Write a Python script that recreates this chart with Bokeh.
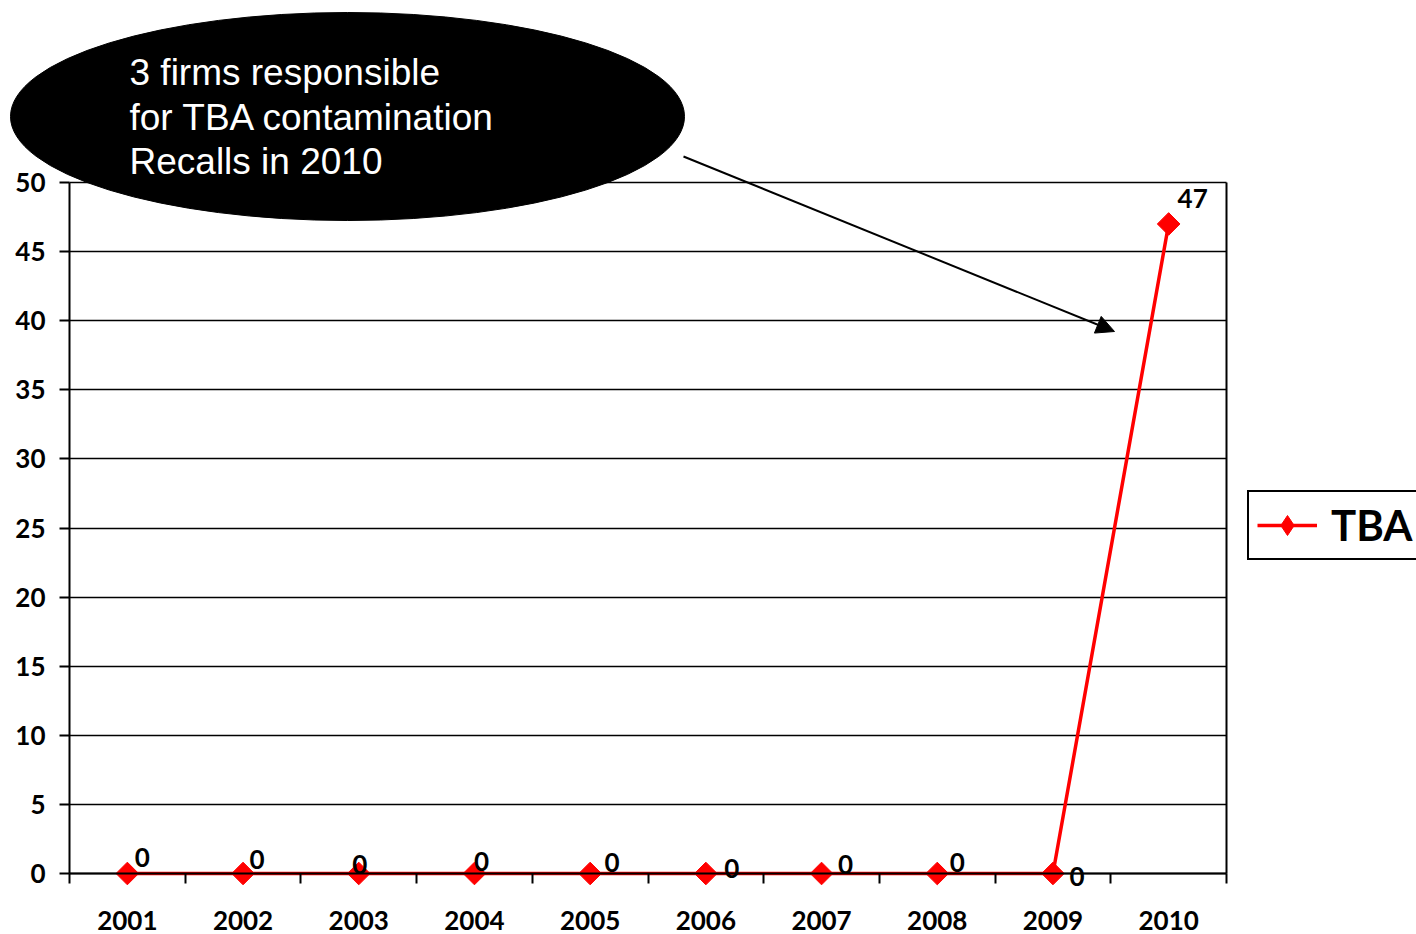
import math

from bokeh.core.properties import value
from bokeh.embed import file_html
from bokeh.models import (Arrow, ColumnDataSource, FixedTicker, Grid, Legend,
                          LegendItem, LinearAxis, NormalHead, Range1d)
from bokeh.plotting import figure
from bokeh.resources import INLINE

# ---- data -------------------------------------------------------------
years = [2001, 2002, 2003, 2004, 2005, 2006, 2007, 2008, 2009, 2010]
tba_recalls = [0, 0, 0, 0, 0, 0, 0, 0, 0, 47]
y_ticks = [0, 5, 10, 15, 20, 25, 30, 35, 40, 45, 50]
series_name = "TBA"
callout_lines = ["3 firms responsible", "for TBA contamination", "Recalls in 2010"]

# nudges for the value labels, in screen pixels (right, down)
label_dx = [15, 14, 1, 7, 22, 26, 24, 20, 24, 24]
label_dy = [-16, -14, -9, -12, -11, -5, -9, -11, 3, -25]

# ---- canvas / plot box geometry ----------------------------------------
W, H = 1416, 934
BOX_L, BOX_R, BOX_T, BOX_B = 69, 1226, 182, 873
x_lo, x_hi = years[0] - 0.5, years[-1] + 0.5
y_lo, y_hi = 0, 50
x_px = (BOX_R - BOX_L) / (x_hi - x_lo)   # pixels per year
y_px = (BOX_B - BOX_T) / (y_hi - y_lo)   # pixels per recall

x_range = Range1d(x_lo - BOX_L / x_px, x_hi + (W - BOX_R) / x_px)
y_range = Range1d(y_lo - (H - BOX_B) / y_px, y_hi + BOX_T / y_px)


def at(px, py):
    """Canvas pixel position -> data position (for the callout pieces)."""
    return x_range.start + px / x_px, y_range.end - py / y_px


FONT = "Lato"
RED = "#FF0000"

p = figure(width=W, height=H, x_range=x_range, y_range=y_range,
           output_backend="svg", toolbar_location=None, min_border=0,
           x_axis_type=None, y_axis_type=None, outline_line_color=None,
           background_fill_color="white", border_fill_color="white")

# ---- horizontal gridlines inside the plot box ---------------------------
p.add_layout(Grid(dimension=1, ticker=FixedTicker(ticks=y_ticks),
                  bounds=(y_lo, y_hi), cross_bounds=(x_lo, x_hi),
                  grid_line_color="black", grid_line_width=1.5))

# ---- axes ---------------------------------------------------------------
yaxis = LinearAxis(fixed_location=x_lo, bounds=(y_lo, y_hi),
                   ticker=FixedTicker(ticks=y_ticks),
                   axis_line_width=2, major_tick_line_width=2,
                   major_tick_out=10, major_tick_in=0,
                   minor_tick_out=0, minor_tick_in=0,
                   major_label_standoff=14,
                   major_label_text_font=FONT,
                   major_label_text_font_style="bold",
                   major_label_text_font_size="26px",
                   major_label_text_color="black")
p.add_layout(yaxis, "left")

xaxis = LinearAxis(fixed_location=y_lo, bounds=(x_lo, x_hi),
                   ticker=FixedTicker(ticks=years,
                                      minor_ticks=[y - 0.5 for y in years] + [x_hi]),
                   axis_line_width=2,
                   major_tick_out=0, major_tick_in=0,
                   minor_tick_out=10, minor_tick_in=0,
                   minor_tick_line_width=2, minor_tick_line_color="black",
                   major_label_standoff=27,
                   major_label_text_font=FONT,
                   major_label_text_font_style="bold",
                   major_label_text_font_size="26px",
                   major_label_text_color="black")
p.add_layout(xaxis, "below")

# right edge of the plot box
edge = LinearAxis(fixed_location=x_hi, bounds=(y_lo, y_hi),
                  ticker=FixedTicker(ticks=[]), axis_line_width=2,
                  major_tick_out=0, major_tick_in=0,
                  minor_tick_out=0, minor_tick_in=0)
p.add_layout(edge, "right")

# ---- series -------------------------------------------------------------
src = ColumnDataSource(dict(year=years, recalls=tba_recalls,
                            label=[str(v) for v in tba_recalls],
                            dx=label_dx, dy=label_dy))

line_r = p.line("year", "recalls", source=src, line_color=RED, line_width=3.5)
pts_r = p.scatter("year", "recalls", source=src, marker="square", size=16,
                  angle=math.pi / 4, fill_color=RED, line_color=RED)
p.text("year", "recalls", text="label", source=src,
       x_offset="dx", y_offset="dy",
       text_align="center", text_baseline="middle",
       text_font=value(FONT), text_font_style="bold",
       text_font_size="26px", text_color="black")

# diamond key for the legend (legend glyphs are drawn unrotated);
# its single NaN point draws nothing on the chart itself
legend_key = p.scatter(x=[float("nan")], y=[float("nan")], marker="diamond",
                       size=20, fill_color=RED, line_color=RED)

# ---- callout bubble with arrow -----------------------------------------
ex, ey = at(347, 116)
p.ellipse(x=[ex], y=[ey], width=674, height=208,
          width_units="screen", height_units="screen",
          fill_color="black", line_color="black", level="overlay")

tx, _ = at(129, 0)
p.text(x=[tx] * 3, y=[at(0, 72)[1], at(0, 117)[1], at(0, 161)[1]],
       text=callout_lines, text_color="white",
       text_font=value("Liberation Sans"), text_font_size="37px",
       text_align="left", text_baseline="alphabetic", level="overlay")

ax0, ay0 = at(683, 156)
ax1, ay1 = at(1114, 331)
p.add_layout(Arrow(x_start=ax0, y_start=ay0, x_end=ax1, y_end=ay1,
                   line_color="black", line_width=2,
                   end=NormalHead(size=18, fill_color="black",
                                  line_color="black", line_width=1)))

# ---- legend -------------------------------------------------------------
legend = Legend(items=[LegendItem(label=series_name,
                                  renderers=[line_r, legend_key])],
                location=(1247, H - 560), margin=0, padding=8,
                glyph_width=60, glyph_height=50, label_height=44,
                label_standoff=14, spacing=0,
                label_text_font=FONT, label_text_font_style="bold",
                label_text_font_size="42px", label_text_color="black",
                border_line_color="black", border_line_width=2,
                border_line_alpha=1,
                background_fill_color="white", background_fill_alpha=1)
p.add_layout(legend)

open("out.html", "w").write(file_html(p, INLINE))
